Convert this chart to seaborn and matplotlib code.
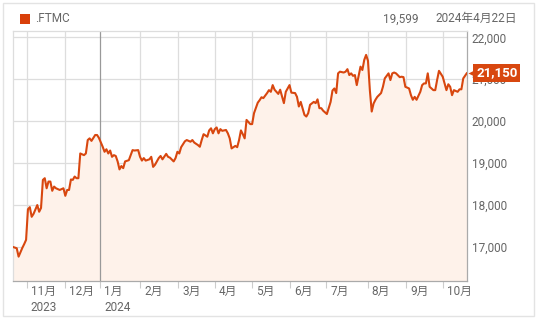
import matplotlib
matplotlib.use("Agg")
import matplotlib.pyplot as plt
import matplotlib.patches as mpatches
from matplotlib.transforms import ScaledTranslation
import seaborn as sns
import pandas as pd

# ---- data (trading-day index, index value) ----
days = [0, 2, 3, 5, 6, 7, 8, 9, 10, 11, 13, 14, 15, 16, 17, 18, 19, 20, 21, 22,
        23, 25, 27, 28, 29, 30, 31, 32, 33, 34, 35, 36, 38, 39, 40, 41, 42, 44, 45, 46,
        48, 49, 50, 51, 52, 53, 54, 55, 56, 57, 58, 59, 60, 62, 63, 64, 65, 67, 68, 69,
        70, 71, 73, 74, 75, 76, 78, 79, 80, 82, 83, 84, 86, 87, 88, 89, 90, 92, 93, 95,
        96, 97, 99, 100, 101, 102, 104, 105, 106, 107, 108, 109, 110, 111, 112, 114, 115, 116, 117, 119,
        120, 121, 122, 123, 124, 125, 127, 128, 129, 131, 132, 133, 134, 136, 137, 138, 139, 140, 142, 143,
        145, 146, 148, 149, 151, 152, 153, 154, 156, 157, 158, 159, 161, 162, 163, 164, 165, 166, 168, 170,
        171, 172, 173, 174, 175, 177, 178, 179, 180, 181, 182, 183, 184, 186, 187, 188, 189, 190, 191, 192,
        193, 194, 195, 197, 198, 199, 201, 202, 203, 204, 205, 207, 208, 209, 210, 212, 213, 214, 215, 216,
        218, 219, 220, 221, 222, 223, 225, 226, 227, 228, 230, 231, 232, 233, 234, 235, 236, 238, 239, 240,
        241, 243]
values = [17000, 16970, 16770, 16980, 17070, 17170, 17900, 17950, 17720, 17790, 18000, 17840, 17930, 18600, 18640, 18400, 18560, 18560, 18340, 18440,
          18400, 18360, 18400, 18220, 18360, 18360, 18610, 18600, 18680, 18640, 18640, 19230, 19190, 19230, 19550, 19590, 19530, 19670, 19670, 19600,
          19390, 19270, 19330, 19230, 19300, 19150, 19190, 19170, 19040, 18850, 18930, 18880, 19040, 19070, 19190, 19310, 19300, 19310, 19150, 19060,
          19120, 19060, 19090, 19150, 18910, 18960, 19120, 19170, 19090, 19220, 19150, 19130, 19040, 19120, 19270, 19230, 19380, 19520, 19550, 19510,
          19550, 19490, 19430, 19390, 19550, 19690, 19630, 19780, 19830, 19710, 19810, 19850, 19710, 19810, 19770, 19790, 19710, 19590, 19350, 19410,
          19380, 19550, 19780, 19690, 19590, 20030, 19930, 19930, 20190, 20440, 20500, 20570, 20550, 20670, 20740, 20700, 20860, 20750, 20650, 20750,
          20430, 20700, 20860, 20680, 20670, 20580, 20350, 20460, 20150, 20110, 20190, 20390, 20460, 20430, 20520, 20310, 20310, 20250, 20170, 20460,
          20730, 20780, 20670, 21140, 21180, 21160, 21180, 21240, 21100, 21140, 21080, 21100, 20860, 21300, 21220, 21460, 21580, 21440, 20740, 20230,
          20420, 20510, 20580, 20670, 20820, 21020, 21140, 20980, 21140, 21160, 21140, 21050, 21060, 21050, 20820, 20780, 20620, 20510, 20580, 20510,
          20700, 20860, 20900, 20900, 21140, 20820, 20740, 20740, 20980, 21200, 21060, 20900, 20740, 20880, 20820, 20620, 20740, 20700, 20760, 20760,
          21020, 21150]

month_pos = [7.3, 28.1, 46.6, 68.1, 88.4, 107.9, 128.1, 148.3, 167.6, 189.9, 210.3, 230.2]
month_labels = ["11月\n2023", "12月", "1月\n2024", "2月", "3月", "4月", "5月",
                "6月", "7月", "8月", "9月", "10月"]
y_ticks = [17000, 18000, 19000, 20000, 21000, 22000]

series_name = ".FTMC"
hover_value = "19,599"
hover_date = "2024年4月22日"
last_label = "21,150"

# ---- style ----
sns.set_theme(style="white")
plt.rcParams['font.family'] = ['Roboto', 'Noto Sans CJK JP', 'DejaVu Sans']

LINE = "#D8470F"
FILL = "#FEF2EA"
TXT = "#666666"
GRID = "#DDDDDD"

fig = plt.figure(figsize=(5.38, 3.21), dpi=100)
fig.patch.set_facecolor("white")
ax = fig.add_axes([13 / 538, 1 - 281 / 321, 454 / 538, 250 / 321])

df = pd.DataFrame({"day": days, "value": values})
ymin, ymax = 16189, 22150
ax.fill_between(df["day"], df["value"], ymin, color=FILL, lw=0, zorder=1)
sns.lineplot(data=df, x="day", y="value", ax=ax, color=LINE, lw=1.5, zorder=3)

ax.set_xlim(0, 243)
ax.set_ylim(ymin, ymax)
ax.set_xlabel("")
ax.set_ylabel("")

# grid
for yv in y_ticks:
    ax.axhline(yv, color=GRID, lw=0.9, zorder=0)
for i, xv in enumerate(month_pos):
    col = "#999999" if month_labels[i].startswith("1月") else GRID
    ax.axvline(xv, color=col, lw=0.9, zorder=0.5 if col == GRID else 2)

# spines
for s in ["top", "left"]:
    ax.spines[s].set_color(GRID)
    ax.spines[s].set_linewidth(0.9)
for s in ["bottom", "right"]:
    ax.spines[s].set_color("#AAAAAA")
    ax.spines[s].set_linewidth(0.9)

# y ticks on right
ax.yaxis.tick_right()
ax.set_yticks(y_ticks)
ax.set_yticklabels([f"{v:,}" for v in y_ticks])
ax.tick_params(axis="y", length=0, pad=3.5, labelsize=8.5, labelcolor=TXT)

# x ticks
ax.set_xticks(month_pos)
ax.set_xticklabels(month_labels)
ax.tick_params(axis="x", direction="out", length=5, width=0.8, color="#CCCCCC",
               pad=-2.5, labelsize=8.5, labelcolor=TXT, bottom=True)
offset = ScaledTranslation(4 / 100, 0, fig.dpi_scale_trans)
for lab in ax.get_xticklabels():
    lab.set_horizontalalignment("left")
    lab.set_multialignment("left")
    lab.set_linespacing(1.35)
    lab.set_transform(lab.get_transform() + offset)

# last value tag
lx, lv = days[-1], values[-1]
tag_off = ScaledTranslation(9 / 100, 0, fig.dpi_scale_trans)
ax.text(lx, lv, last_label, transform=ax.transData + tag_off, ha="left", va="center",
        color="white", fontsize=9.5, fontweight="bold", clip_on=False, zorder=6,
        bbox=dict(boxstyle="square,pad=0.2", facecolor=LINE, edgecolor="none"))
arr_off = ScaledTranslation(5 / 100, 0, fig.dpi_scale_trans)
ax.plot([lx], [lv], marker="<", ms=6, color=LINE, mec="none",
        transform=ax.transData + arr_off, clip_on=False, zorder=6)

# header
fig.patches.append(mpatches.Rectangle((20 / 538, 1 - 24 / 321), 10 / 538, 10 / 321,
                                      transform=fig.transFigure, facecolor="#D9400A",
                                      edgecolor="none"))
fig.text(35 / 538, 1 - 19 / 321, series_name, ha="left", va="center", fontsize=8.5, color=TXT)
fig.text(418 / 538, 1 - 19 / 321, hover_value, ha="right", va="center", fontsize=8.5, color=TXT)
fig.text(517 / 538, 1 - 18.5 / 321, hover_date, ha="right", va="center", fontsize=8.5, color=TXT)

# outer frame
fig.patches.append(mpatches.Rectangle((3 / 538, 1 - 316 / 321), 531 / 538, 313 / 321,
                                      transform=fig.transFigure, facecolor="none",
                                      edgecolor="#E3E3E3", lw=1))

fig.savefig("out.png", dpi=100)
